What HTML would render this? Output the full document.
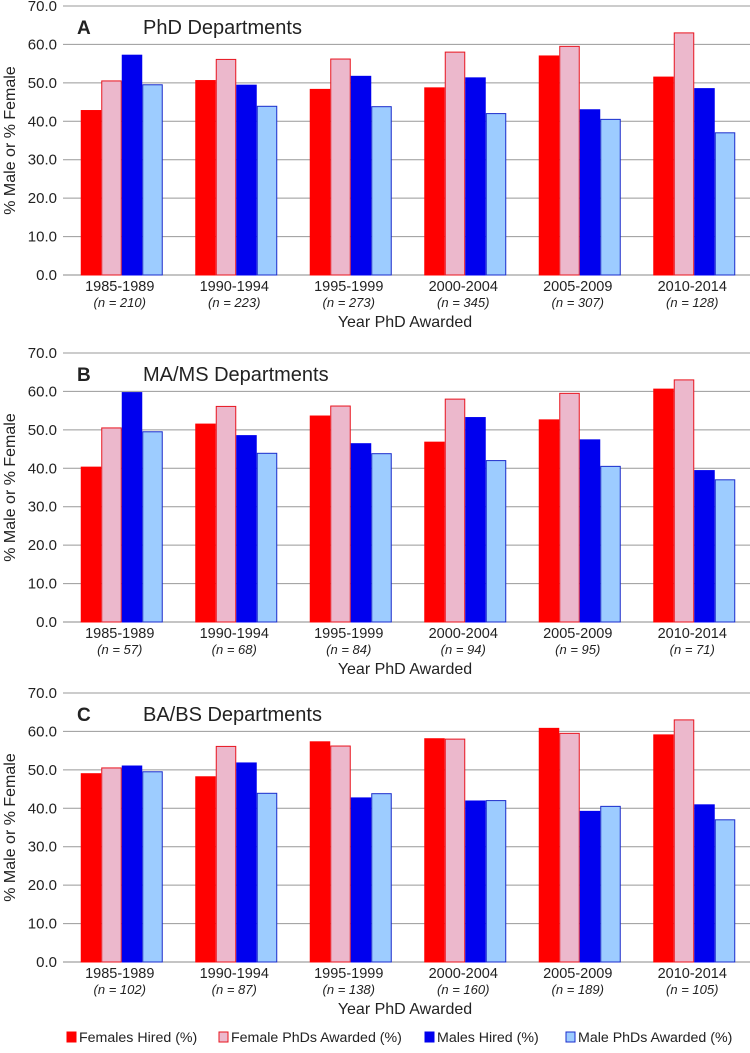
<!DOCTYPE html>
<html><head><meta charset="utf-8"><style>
body{margin:0;background:#fff;font-family:"Liberation Sans",sans-serif}
svg text{font-family:"Liberation Sans",sans-serif;fill:#222}
</style></head><body>
<svg id="c" width="750" height="1048"></svg>
<script>
const categories=["1985-1989","1990-1994","1995-1999","2000-2004","2005-2009","2010-2014"];
const panelTitles=["PhD Departments","MA/MS Departments","BA/BS Departments"];
const panelLetters=["A","B","C"];
const nA=[210,223,273,345,307,128];
const nB=[57,68,84,94,95,71];
const nC=[102,87,138,160,189,105];
const femaleHiredA=[42.8,50.6,48.3,48.7,57.0,51.5];
const maleHiredA=[57.2,49.4,51.7,51.3,43.0,48.5];
const femaleHiredB=[40.3,51.5,53.6,46.8,52.6,60.6];
const maleHiredB=[59.7,48.5,46.4,53.2,47.4,39.4];
const femaleHiredC=[49.0,48.2,57.3,58.1,60.8,59.1];
const maleHiredC=[51.0,51.8,42.7,41.9,39.2,40.9];
const femalePhDs=[50.5,56.1,56.2,58.0,59.5,63.0];
const malePhDs=[49.5,43.9,43.8,42.0,40.5,37.0];
const yTicks=[0,10,20,30,40,50,60,70];
const seriesNames=["Females Hired (%)","Female PhDs Awarded (%)","Males Hired (%)","Male PhDs Awarded (%)"];

const NS="http://www.w3.org/2000/svg";
const svg=document.getElementById('c');
function mk(tag,attrs,parent,txt){const e=document.createElementNS(NS,tag);for(const k in attrs)e.setAttribute(k,attrs[k]);if(txt!==undefined)e.textContent=txt;(parent||svg).appendChild(e);return e;}
const fills=["#ff0000","#ecb8cc","#0000ee","#9dccff"];
const strokes=["#ff0000","#e8141e","#0000ee","#1a2ccc"];
const panels=[
 {top:6,bottom:275,n:nA,data:[femaleHiredA,femalePhDs,maleHiredA,malePhDs]},
 {top:353,bottom:622,n:nB,data:[femaleHiredB,femalePhDs,maleHiredB,malePhDs]},
 {top:693,bottom:962,n:nC,data:[femaleHiredC,femalePhDs,maleHiredC,malePhDs]}];
const x0=63,x1=750,catW=(x1-x0)/categories.length,barW=20.5;
panels.forEach((p,pi)=>{
 const g=mk('g',{});
 
 
 const y=v=>p.bottom-(v/70)*(p.bottom-p.top);
 yTicks.forEach(t=>{
  const l=mk('line',{x1:x0,x2:x1,y1:y(t),y2:y(t),stroke:t===0?'#888':'#999','stroke-width':1},g);
  
  
  const tx=mk('text',{x:57,y:y(t)+5,'text-anchor':'end','font-size':15},g,t.toFixed(1));
  
  
 });
 const yl=mk('text',{x:0,y:0,'font-size':16,'text-anchor':'middle',transform:`translate(15,${(p.top+p.bottom)/2}) rotate(-90)`},g,'% Male or % Female');
 
 
 const lt=mk('text',{x:77,y:p.top+28,'font-size':19,'font-weight':'bold'},g,panelLetters[pi]);
 
 
 const tt=mk('text',{x:143,y:p.top+28,'font-size':20},g,panelTitles[pi]);
 
 
 categories.forEach((c,ci)=>{
  const cx=x0+catW*ci+catW/2+1.5;
  p.data.forEach((s,si)=>{
   const bx=cx-2*barW+si*barW;
   const r=mk('rect',{x:bx+0.5,y:y(s[ci]),width:barW-1,height:p.bottom-y(s[ci]),fill:fills[si],stroke:strokes[si],'stroke-width':1},g);
   
   
  });
  const cl=mk('text',{x:cx-2,y:p.bottom+16,'text-anchor':'middle','font-size':14.5},g,c);
  
  
  const nl=mk('text',{x:cx-2,y:p.bottom+32,'text-anchor':'middle','font-size':13,'font-style':'italic'},g,'(n = '+p.n[ci]+')');
  
  
 });
 const xt=mk('text',{x:405,y:p.bottom+52,'text-anchor':'middle','font-size':16},g,'Year PhD Awarded');
 
 
});
const leg=mk('g',{});


const lx=[67,219,425,566];
seriesNames.forEach((n,i)=>{
 const r=mk('rect',{x:lx[i],y:1032,width:9,height:10,fill:fills[i],stroke:strokes[i]},leg);
 
 
 const t=mk('text',{x:lx[i]+12,y:1042,'font-size':14.2},leg,n);
 
 
});
</script>
</body></html>
